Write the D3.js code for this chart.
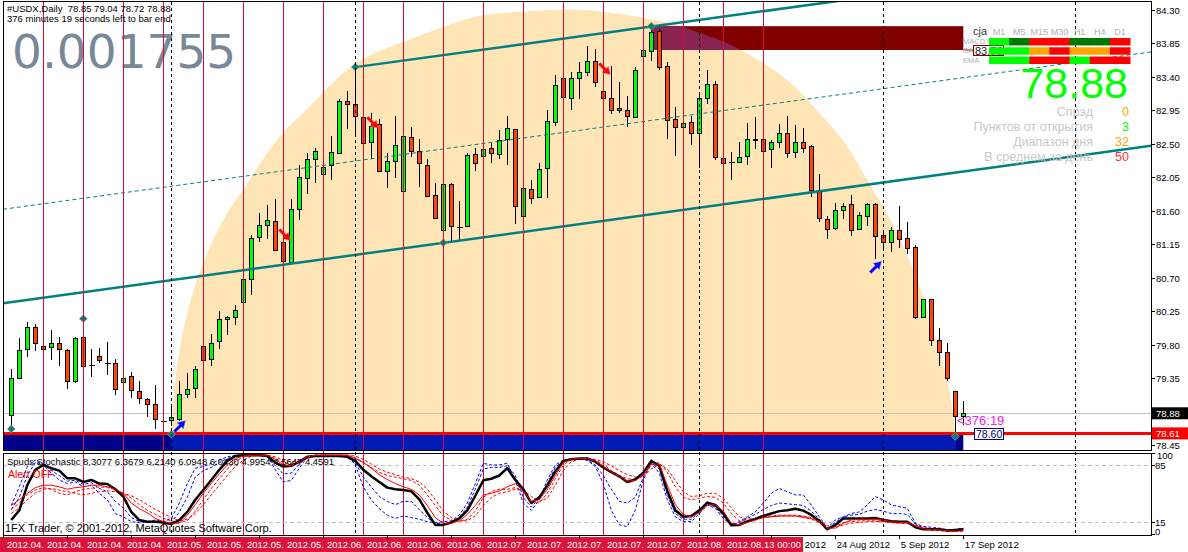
<!DOCTYPE html>
<html><head><meta charset="utf-8">
<script src="https://cdn.jsdelivr.net/npm/d3@7"></script>
<style>
html,body{margin:0;padding:0;background:#fff;}
svg{display:block;font-family:"Liberation Sans",Arial,sans-serif;}
text{white-space:pre;}
</style></head><body>
<svg id="c" width="1188" height="552"></svg>
<script>
// ---------- DATA ----------
const opens=[78.86,79.36,79.74,80.04,79.79,79.77,79.83,79.73,79.32,79.90,79.53,79.65,79.56,79.56,79.30,79.38,79.18,79.07,79.01,78.78,
78.79,78.81,79.14,79.22,79.79,79.61,79.85,80.15,80.18,80.37,80.69,81.25,81.41,81.46,81.18,80.91,81.62,82.04,82.29,82.10,
82.21,82.37,83.07,83.04,82.86,82.52,82.76,82.13,82.27,81.86,82.59,82.41,82.22,81.81,81.34,81.96,81.38,81.39,82.36,82.33,
82.44,82.36,82.56,82.70,81.53,81.89,81.78,82.17,82.79,83.39,83.11,83.38,83.46,83.61,83.21,83.11,82.98,82.95,82.86,83.68,
83.74,84.01,83.54,82.83,82.72,82.79,82.64,83.11,83.30,82.31,82.26,82.26,82.33,82.57,82.56,82.43,82.52,82.65,82.39,82.53,
82.47,81.88,81.49,81.37,81.61,81.69,81.35,81.53,81.69,81.27,81.18,81.34,81.23,81.11,80.18,80.41,79.87,79.70,79.18,78.85];
const highs=[79.47,79.89,80.10,80.08,79.80,80.00,79.90,79.75,79.90,79.91,79.74,79.76,79.84,79.61,79.37,79.43,79.31,79.08,79.26,78.79,
79.00,79.32,79.42,79.52,79.80,79.95,80.26,80.19,80.33,80.69,81.28,81.57,81.68,81.76,81.23,81.76,82.21,82.38,82.45,82.21,
82.60,83.10,83.21,83.58,82.86,82.91,82.83,82.37,82.88,82.60,82.72,82.57,82.29,81.98,81.96,81.98,81.73,82.37,82.45,82.43,
82.51,82.69,82.87,82.70,81.90,82.02,82.24,82.95,83.42,83.40,83.47,83.60,83.81,83.77,83.21,83.54,83.33,83.14,83.53,83.76,
84.12,84.04,83.60,82.99,82.78,82.88,83.19,83.49,83.35,82.31,82.39,82.52,82.78,82.86,82.56,82.55,82.76,82.87,82.75,82.71,
82.49,82.10,81.53,81.71,81.71,81.81,81.59,81.71,81.71,81.34,81.38,81.66,81.45,81.14,80.42,80.42,80.02,79.83,79.18,79.04];
const lows=[78.70,79.34,79.63,79.72,79.74,79.60,79.52,79.21,79.29,79.50,79.37,79.56,79.39,79.13,79.29,79.09,79.00,78.83,78.67,78.77,
78.71,78.78,79.08,79.09,79.58,79.52,79.74,79.93,80.07,80.36,80.47,81.18,81.22,81.07,80.92,80.91,81.48,81.83,81.98,82.10,
82.02,82.37,82.70,82.60,82.51,82.29,82.12,81.90,82.04,81.86,82.32,81.92,81.80,81.50,81.33,81.18,81.21,81.38,82.14,82.33,
82.24,82.29,82.22,81.42,81.53,81.69,81.77,81.77,82.74,83.13,82.96,83.10,83.41,83.26,83.11,82.90,82.91,82.72,82.86,83.68,
83.61,83.49,82.57,82.33,82.72,82.49,82.18,83.04,82.28,82.24,82.02,82.25,82.22,82.43,82.41,82.18,82.45,82.31,82.31,82.37,
81.78,81.45,81.22,81.34,81.49,81.26,81.34,81.39,80.95,81.06,81.04,81.10,81.02,80.14,80.17,79.79,79.52,79.32,78.63,78.72];
const closes=[79.35,79.73,80.04,79.82,79.75,79.83,79.74,79.32,79.89,79.52,79.53,79.59,79.56,79.20,79.36,79.19,79.08,79.00,78.80,78.78,
78.83,79.14,79.20,79.48,79.59,79.83,80.14,80.18,80.27,80.68,81.24,81.41,81.47,81.08,80.92,81.63,82.05,82.29,82.41,82.19,
82.39,83.07,83.03,82.87,82.51,82.74,82.14,82.27,82.49,82.60,82.40,82.24,81.80,81.50,81.96,81.39,81.38,82.35,82.24,82.43,
82.37,82.55,82.71,81.67,81.90,81.77,82.16,82.80,83.29,83.13,83.38,83.47,83.61,83.33,83.11,82.96,82.95,82.87,83.49,83.76,
84.00,83.53,82.82,82.72,82.78,82.64,83.11,83.30,82.32,82.24,82.26,82.32,82.57,82.55,82.41,82.53,82.64,82.37,82.53,82.45,
81.88,81.50,81.35,81.61,81.67,81.34,81.54,81.69,81.26,81.18,81.34,81.22,81.10,80.17,80.41,79.87,79.71,79.35,78.84,78.88];

// stochastic panel
const stochMain=[17,29,60,79,85,81,78,68.5,68.5,64,66.5,62,61.5,55,46,27,17,15,15,14,12,17,27,42,54,66.5,79,90,96,97,97,97,96,88,83,84,89,95,96,96,
96,96,95,90,79,71,64,57,55,54,52.5,42.6,26,11,11,14,19,29,47,66,68,72,81,66.5,55,38,45,59.5,77,90,92,93,93,89,82,76,71,64,67,75.5,
90,84,53,29,21,22,29,38.5,35.6,25,10.5,11,15.4,18.3,22,25,28,29,31,28.6,23.3,15.8,5.6,10.9,19,19,19,19,19.6,17,15.4,15,15,8,5.6,5.6,5.6,4,4.7,5.6];
const stochSignal=[35,42,50,57,60,60,58,55,57,58,60,60,58,55,50,38,31,26,19,15,13,13,23,36,50,62,74,85,93,96,97,97,97,92,85,84,89,95,97,97,
97,97,97,93,88,81,73,67,62,58,55,48,35,20,13,13,16,24,35,48,50,53,58,62,53,40,42,55,72,88,92,93,93,90,83,76,71,65,66,72,
86,86,60,36,24,21,26,35,36,28,13,11,14,17,20,21,22,22,22,21,19,15,7,7,13,17,18,18,18,17,15,14,14,10,6,5,5,4,3,4];
const stochFast1=[35,58,83,91,85,75,66.5,62,64,58,60,50,42,25,21,15,14,15,17,15,19,38,62,81,83,87,91,95,97,97,97,97,97,79,64,66,81,95,97,97,
97,97,97,85,58,42,31,23,19,22,20,18,15,14,15,16,23,38,62,87,85,85,87,66.5,38,29,42,66.5,85,91,92,92,91,83,62,29,11,9,29,66.5,
87,75,42,21,15,15,25,35.6,31.5,19,11,15,21,27,38,50,56,52,48,48,35.6,21,7,17,21,25,27,35.6,46,42,35.6,33.5,31.5,13,9,8,7,5,5,7];
const stochFast2=[30,45,72,88,86,78,72,65,66,61,63,56,52,40,32,20,15,14,15,14,14,27,45,70,78,82,88,93,96,97,97,97,95,84,74,75,86,95,96,96,
96,96,95,88,70,58,46,40,36,40,40,30,20,13,12,14,20,33,55,80,82,82,84,72,45,33,44,62,82,90,92,92,91,85,72,55,40,38,45,70,
88,80,48,25,18,18,27,37,33,22,11,14,19,24,30,35,38,37,36,35,28,18,6,14,21,23,24,28,30,28,25,25,24,12,7,6,6,4.5,5,6];
const stochSlow1=[30,38,48,54,57,55,50,48,52,55,56,58,57,55,50,44,36,29,24,19,16,14,16,28,42,56,68,80,89,95,97,97,97,93,88,86,88,93,96,97,
97,97,97,94,88,82,76,72,70,68,66,60,48,35,22,17,15,18,28,45,52,55,55,57,52,40,38,50,68,85,92,93,93,91,86,78,72,68,67,72,
85,88,76,58,45,42,44,46,45,38,25,16,16,18,20,21,22,22,22,20,18,14,6,9,14,15,16,16,16,15,14,13,13,9,6,4,4,3,3,4];
const stochSlow2=[25,32,42,50,55,56,54,52,50,48,50,52,53,52,50,47,42,36,30,25,20,16,18,25,36,48,60,72,83,91,96,97,97,95,91,89,90,93,96,97,
97,97,97,96,92,86,80,76,73,70,68,64,55,42,28,20,16,16,22,35,45,50,52,55,54,46,40,44,60,78,89,92,93,92,89,84,78,73,70,70,
80,86,80,66,52,46,47,50,50,44,32,21,18,19,21,22,23,23,23,22,20,17,10,8,11,13,14,15,15,15,14,13,13,11,8,6,5,4,3,3];
const stochLevels=[85,15];
const stochTickLabels=["100","85","15","0"];
const stochTickValues=[100,85,15,0];

// price axis
const priceTicks=[84.30,83.85,83.40,82.95,82.50,82.05,81.60,81.15,80.70,80.25,79.80,79.35,78.45];
const bidPrice=78.88, redLevel=78.61;

// time axis
const redLabelBars=[0,5,10,15,20,25,30,35,40,45,50,55,60,65,70,75,80,85,90];
const redLabelTexts=["2012.04.","2012.04.","2012.04.","2012.04.","2012.05.","2012.05.","2012.05.","2012.05.","2012.06.","2012.06.",
"2012.06.","2012.06.","2012.07.","2012.07.","2012.07.","2012.07.","2012.07.","2012.08.","2012.08.13 00:00"];
const dateTickBars=[99,103,111,119];
const dateTickTexts=["2012","24 Aug 2012","5 Sep 2012","17 Sep 2012"];
const tickBars=[-1,7,15,23,31,39,47,55,63,71,79,87,95,103,111,119];
const weekLineBars=[4,9,14,19,24,29,34,39,44,49,54,59,64,69,74,79,84,89,94];
const sepLineBars=[20,43,86,109,133];

// drawing objects (bar index, price)
const arcBars=[19.9,20.2,20.5,21.1,22.0,23.2,24.8,27.0,29.2,33.2,37.3,41.5,44.5,49.5,54.8,58.6,64.8,71.0,78.6,83.6,86.5,89.5,96.5,100.7,104.2,106.8,109.2,111.3,113.1,114.5,115.7,116.9,117.6,118.1];
const arcPrices=[78.52,78.88,79.33,79.77,80.23,80.67,81.11,81.57,81.92,82.55,83.00,83.45,83.67,83.89,84.10,84.22,84.28,84.30,84.20,84.08,83.97,83.85,83.40,82.95,82.51,82.05,81.61,81.17,80.71,80.27,79.82,79.37,78.94,78.52];
const lowerLineBars=[-1,54], lowerLinePrices=[80.36,81.17];
const upperLineStart={bar:43, price:83.53};
const maroonBox={fromBar:80,toBar:119,top:84.08,bottom:83.76,label:"83.76"};
const blueBox={fromBar:-2,toBar:119,top:78.59,bottom:78.20,label:"78.60"};
const diamondBars=[0,9,43,54,80,20,118];
const diamondPrices=[78.67,80.15,83.53,81.17,84.08,78.60,78.57];
const sellArrowBars=[34,45,74], sellArrowPrices=[81.28,82.79,83.51];
const buyArrowBars=[21,108], buyArrowPrices=[78.70,80.84];

// signal panel
const tfNames=["M1","M5","M15","M30","H1","H4","D1"];
const rowNames=["MACD","SAR","EMA"];
const rowColors=[
 ["#00FF00","#007800","#FF0000","#FF0000","#007800","#007800","#FF0000"],
 ["#00FF00","#00FF00","#FFA500","#FF0000","#FFA500","#FFA500","#FF0000"],
 ["#00FF00","#00FF00","#FF0000","#FF0000","#00FF00","#FF0000","#FF0000"]];
const infoLabels=["Спрэд","Пунктов от открытия","Диапазон дня","В среднем за день"];
const infoValues=["0","3","32","50"];
const infoColors=["#FFA500","#00FF00","#FFA500","#FF3030"];

// ---------- LAYOUT ----------
const plotL=3, plotR=1151, mainT=2, mainB=450, stT=453, stB=535;
const svg=d3.select("#c");
const x=d3.scaleLinear().domain([0,119]).range([11.3,963.3]);
const y=d3.scaleLinear().domain([78.45,84.30]).range([445.3,9.8]);
const ys=d3.scaleLinear().domain([0,100]).range([533.8,452.8]);
const defs=svg.append("defs");
defs.append("clipPath").attr("id","cm").append("rect").attr("x",plotL).attr("y",mainT).attr("width",plotR-plotL).attr("height",mainB-mainT);
defs.append("clipPath").attr("id","cs").append("rect").attr("x",plotL).attr("y",stT).attr("width",plotR-plotL).attr("height",stB-stT);

svg.append("rect").attr("width",1188).attr("height",552).attr("fill","#fff");

const arcPts=arcBars.map((b,k)=>[x(b),y(arcPrices[k])]);
const arcD=d3.line().curve(d3.curveCatmullRom.alpha(0.5))(arcPts)+
  `L${arcPts[arcPts.length-1][0]},${mainB+5}L${arcPts[0][0]},${mainB+5}Z`;
defs.append("clipPath").attr("id","cp").append("path").attr("d",arcD);

const g=svg.append("g").attr("clip-path","url(#cm)");
g.append("path").attr("d",arcD).attr("fill","#FFE4B5");

// rectangles
function boxRect(parent,b,fill){
  parent.append("rect").attr("x",x(b.fromBar)).attr("y",y(b.top))
   .attr("width",x(b.toBar)-x(b.fromBar)).attr("height",y(b.bottom)-y(b.top)).attr("fill",fill);
}
boxRect(g,blueBox,"#000088");
boxRect(g,maroonBox,"#800000");
const gb=g.append("g").attr("clip-path","url(#cp)");
boxRect(gb,blueBox,"#001CB4");
boxRect(gb,maroonBox,"#8A2252");

// big text
svg.append("text").attr("x",12).attr("y",68).attr("font-family","DejaVu Sans").attr("font-size",47).attr("fill","#778899").text("0.001755");

// gray bid line
g.append("line").attr("x1",plotL).attr("x2",plotR).attr("y1",Math.round(y(bidPrice))+0.5).attr("y2",Math.round(y(bidPrice))+0.5).attr("stroke","#C0C0C0");

// candles
const cg=g.append("g").attr("shape-rendering","crispEdges");
d3.range(opens.length).forEach(i=>{
  const cx=Math.round(x(i))+0.5;
  cg.append("line").attr("x1",cx).attr("x2",cx).attr("y1",y(highs[i])).attr("y2",y(lows[i])).attr("stroke","#000");
  const o=opens[i],c=closes[i];
  if(Math.abs(o-c)<0.005){
    cg.append("line").attr("x1",cx-2.5).attr("x2",cx+3).attr("y1",Math.round(y(o))+0.5).attr("y2",Math.round(y(o))+0.5).attr("stroke","#000").attr("stroke-width",1.5);
  } else {
    const t=Math.round(y(Math.max(o,c)))+0.5, b=Math.round(y(Math.min(o,c)))+0.5;
    cg.append("rect").attr("x",cx-2).attr("y",t).attr("width",4).attr("height",Math.max(1,b-t))
      .attr("fill",c>o?"#00FF00":"#FF4500").attr("stroke","#000");
  }
});

// trend channel
const slope=(lowerLinePrices[1]-lowerLinePrices[0])/(lowerLineBars[1]-lowerLineBars[0]);
const bL=x.invert(plotL), bR=x.invert(plotR);
const lowerAt=b=>lowerLinePrices[0]+(b-lowerLineBars[0])*slope;
const upperAt=b=>upperLineStart.price+(b-upperLineStart.bar)*slope;
g.append("line").attr("x1",x(bL)).attr("x2",x(bR)).attr("y1",y(lowerAt(bL))).attr("y2",y(lowerAt(bR))).attr("stroke","#008080").attr("stroke-width",2.5);
g.append("line").attr("x1",x(bL)).attr("x2",x(bR)).attr("y1",y((lowerAt(bL)+upperAt(bL))/2)).attr("y2",y((lowerAt(bR)+upperAt(bR))/2)).attr("stroke","#008080").attr("stroke-width",1).attr("stroke-dasharray","4,3");
g.append("line").attr("x1",x(upperLineStart.bar)).attr("x2",x(bR)).attr("y1",y(upperLineStart.price)).attr("y2",y(upperAt(bR))).attr("stroke","#008080").attr("stroke-width",2.5);

// vertical lines (both panels)
const vg=svg.append("g").attr("shape-rendering","crispEdges");
weekLineBars.forEach(b=>{const xx=Math.round(x(b))+0.5;
  vg.append("line").attr("x1",xx).attr("x2",xx).attr("y1",mainT).attr("y2",stB).attr("stroke","#D0103C");});
sepLineBars.forEach(b=>{const xx=Math.round(x(b))+0.5;
  vg.append("line").attr("x1",xx).attr("x2",xx).attr("y1",mainT).attr("y2",stB).attr("stroke","#000").attr("stroke-dasharray","3,3");});

// red level line
g.append("line").attr("x1",plotL).attr("x2",plotR).attr("y1",y(redLevel)).attr("y2",y(redLevel)).attr("stroke","#FF0000").attr("stroke-width",3);
g.append("line").attr("x1",x(maroonBox.toBar)).attr("x2",975).attr("y1",y(maroonBox.bottom)).attr("y2",y(maroonBox.bottom)).attr("stroke","#800000");

// markers
diamondBars.forEach((b,k)=>{
  g.append("path").attr("d","M0,-4L4,0L0,4L-4,0Z").attr("transform",`translate(${x(b)},${y(diamondPrices[k])})`)
   .attr("fill","#008080").attr("stroke","#D8A060").attr("stroke-width",0.6);
});
const arrowD="M-6,-4L-4,-6L2,0L4,-2L6,6L-2,4L0,2Z";
sellArrowBars.forEach((b,k)=>{
  g.append("path").attr("d",arrowD).attr("transform",`translate(${x(b)+1},${y(sellArrowPrices[k])})`).attr("fill","#FF0000").attr("stroke","#FF6080").attr("stroke-width",0.5);
});
buyArrowBars.forEach((b,k)=>{
  g.append("path").attr("d",arrowD).attr("transform",`translate(${x(b)},${y(buyArrowPrices[k])}) rotate(-90)`).attr("fill","#0000FF").attr("stroke","#4060FF").attr("stroke-width",0.5);
});

// texts on main chart
svg.append("text").attr("x",957).attr("y",425).attr("font-size",13).attr("fill","#EE22EE").text("<376:19");
svg.append("rect").attr("x",974.5).attr("y",428.5).attr("width",29).attr("height",11).attr("fill","#fff").attr("stroke","#000080");
svg.append("text").attr("x",976).attr("y",438).attr("font-size",10.5).attr("fill","#000080").text(blueBox.label);
svg.append("text").attr("x",7).attr("y",11.5).attr("font-size",9.5).attr("fill","#000").text("#USDX,Daily  78.85 79.04 78.72 78.88");
svg.append("text").attr("x",7).attr("y",22).attr("font-size",9.5).attr("fill","#000").text("376 minutes 19 seconds left to bar end");

// signal panel (top right)
const sp=svg.append("g");
sp.append("text").attr("x",973).attr("y",35).attr("font-size",11).attr("fill","#333").text("cja");
const colX=d3.scaleBand().domain(tfNames).range([989,1130]);
tfNames.forEach(n=>sp.append("text").attr("x",colX(n)+colX.bandwidth()/2).attr("y",35).attr("text-anchor","middle").attr("font-size",9).attr("fill","#B0B0B0").text(n));
const rowY=d3.scaleBand().domain(rowNames).range([38,64]).paddingInner(0.2);
rowNames.forEach(n=>sp.append("text").attr("x",963).attr("y",rowY(n)+6).attr("font-size",7.5).attr("fill","#B0B0B0").text(n));
sp.append("rect").attr("x",973.5).attr("y",45.5).attr("width",30).attr("height",10).attr("fill","#fff").attr("stroke","#800000");
sp.append("text").attr("x",975).attr("y",55).attr("font-size",11).attr("fill","#222").text(maroonBox.label);
rowNames.forEach((n,r)=>tfNames.forEach((t,c)=>{
  sp.append("rect").attr("x",colX(t)).attr("y",rowY(n)).attr("width",colX.bandwidth()+0.5).attr("height",rowY.bandwidth()).attr("fill",rowColors[r][c]);
}));
sp.append("text").attr("x",1128).attr("y",98).attr("text-anchor","end").attr("font-size",43).attr("fill","#00FF00").text("78.88");
infoLabels.forEach((l,k)=>{
  sp.append("text").attr("x",1093).attr("y",116+15*k).attr("text-anchor","end").attr("font-size",12.5).attr("fill","#C8C8C8").text(l);
  sp.append("text").attr("x",1129).attr("y",116+15*k).attr("text-anchor","end").attr("font-size",12.5).attr("fill",infoColors[k]).text(infoValues[k]);
});

// ---------- STOCHASTIC ----------
const sg=svg.append("g").attr("clip-path","url(#cs)");
stochLevels.forEach(v=>sg.append("line").attr("x1",plotL).attr("x2",plotR).attr("y1",Math.round(ys(v))+0.5).attr("y2",Math.round(ys(v))+0.5).attr("stroke","#C0C0C0").attr("stroke-dasharray","4,3"));
const sl=d3.line().x((d,i)=>x(i)).y(d=>ys(d));
[[stochFast1,"#0000FF"],[stochFast2,"#0000FF"],[stochSlow1,"#FF0000"],[stochSlow2,"#FF0000"]].forEach(([arr,col])=>{
  sg.append("path").attr("d",sl(arr)).attr("fill","none").attr("stroke",col).attr("stroke-width",1).attr("stroke-dasharray","3,2");
});
sg.append("path").attr("d",sl(stochMain)).attr("fill","none").attr("stroke","#000").attr("stroke-width",2.5).attr("stroke-linejoin","round");
sg.append("path").attr("d",sl(stochSignal)).attr("fill","none").attr("stroke","#FF0000").attr("stroke-width",1);
svg.append("text").attr("x",7).attr("y",465).attr("font-size",9.5).attr("fill","#000").text("Spuds Stochastic 8.3077 6.3679 6.2140 6.0948 6.0430 4.9954 4.5647 4.4591");
svg.append("text").attr("x",8).attr("y",478).attr("font-size",10.5).attr("fill","#FF0000").text("Alert OFF");
svg.append("text").attr("x",5).attr("y",532).attr("font-size",11).attr("fill","#000").text("1FX Trader, © 2001-2012, MetaQuotes Software Corp.");

// ---------- FRAMES & AXES ----------
const fr=svg.append("g").attr("fill","none").attr("stroke","#000").attr("shape-rendering","crispEdges");
fr.append("rect").attr("x",plotL+0.5).attr("y",mainT-0.5).attr("width",plotR-plotL).attr("height",mainB-mainT+1);
fr.append("rect").attr("x",plotL+0.5).attr("y",stT+0.5).attr("width",plotR-plotL).attr("height",stB-stT);

const ax=svg.append("g");
priceTicks.forEach(p=>{
  const yy=Math.round(y(p))+0.5;
  ax.append("line").attr("x1",plotR).attr("x2",plotR+4).attr("y1",yy).attr("y2",yy).attr("stroke","#000");
  ax.append("text").attr("x",plotR+5).attr("y",yy+3.5).attr("font-size",9.5).attr("fill","#000").text(p.toFixed(2));
});
[[bidPrice,"#000"],[redLevel,"#FF0000"]].forEach(([p,col])=>{
  const yy=y(p);
  ax.append("rect").attr("x",plotR+1).attr("y",yy-6).attr("width",37).attr("height",12).attr("fill",col);
  ax.append("text").attr("x",plotR+5).attr("y",yy+3.5).attr("font-size",9.5).attr("fill","#fff").text(p.toFixed(2));
});
stochTickValues.forEach((v,k)=>{
  const yy=Math.round(ys(v))+0.5;
  ax.append("line").attr("x1",plotR).attr("x2",plotR+4).attr("y1",yy).attr("y2",yy).attr("stroke","#000");
  ax.append("text").attr("x",plotR+(v===100?6:4)).attr("y",yy+(v===100?5:v===0?0:3)).attr("font-size",9.5).attr("fill","#000").text(stochTickLabels[k]);
});

// time axis
ax.append("rect").attr("x",0).attr("y",537).attr("width",803).attr("height",15).attr("fill","#DC143C");
redLabelBars.forEach((b,k)=>{
  ax.append("text").attr("x",x(b)-4.3).attr("y",548).attr("font-size",9.5).attr("fill","#fff").text(redLabelTexts[k]);
});
dateTickBars.forEach((b,k)=>{
  ax.append("text").attr("x",x(b)+1.5).attr("y",548).attr("font-size",9.5).attr("fill","#000").text(dateTickTexts[k]);
});
tickBars.forEach(b=>{
  const xx=Math.round(x(b))+0.5;
  ax.append("line").attr("x1",xx).attr("x2",xx).attr("y1",stB).attr("y2",stB+4).attr("stroke","#000");
});
</script>
</body></html>
